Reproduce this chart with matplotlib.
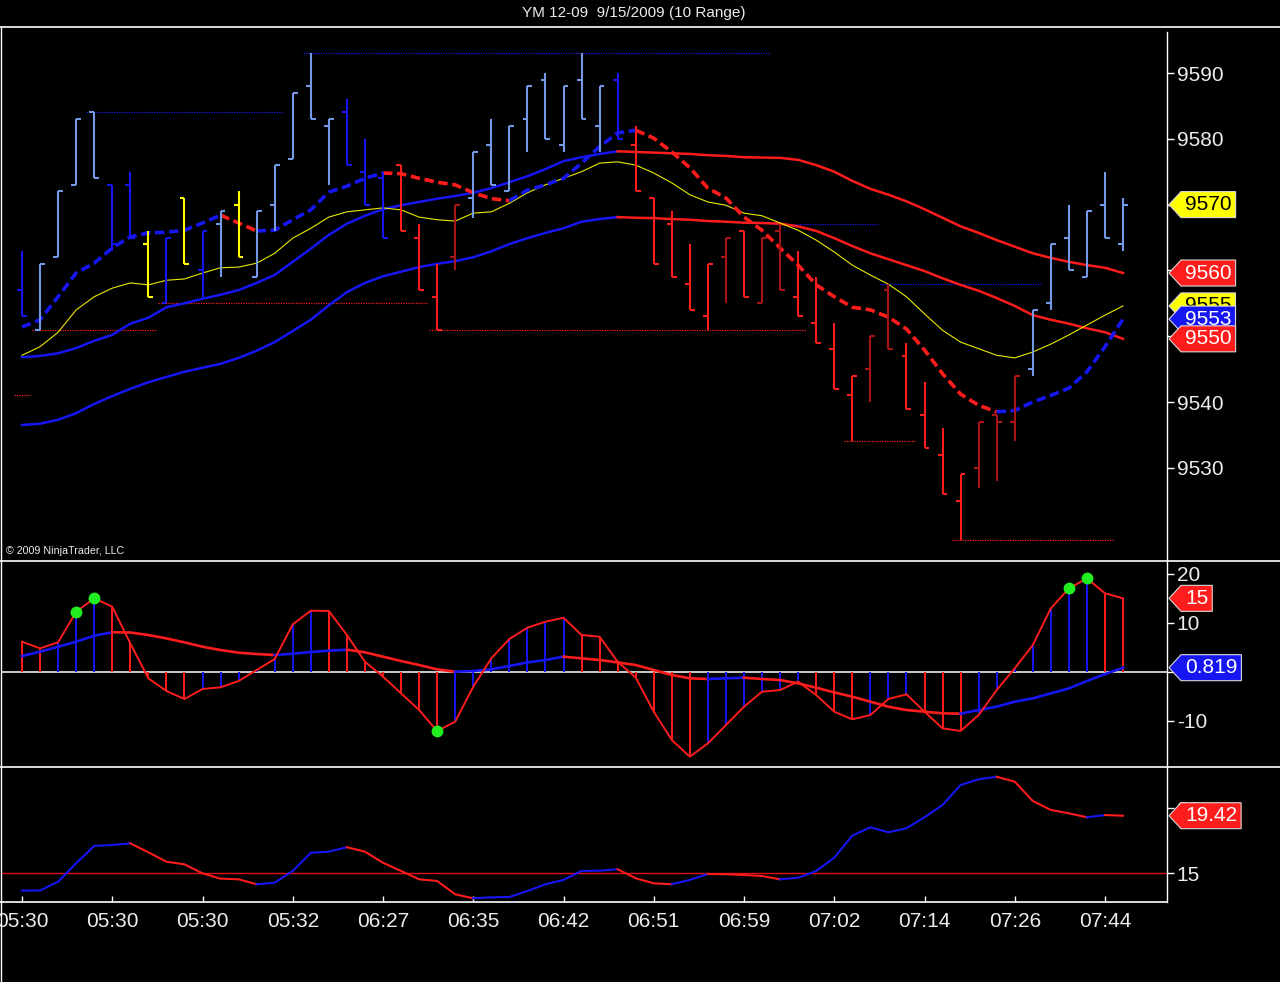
# YM 12-09 range chart, NinjaTrader style: price bars, oscillator, trend strength
import numpy as np
import matplotlib.pyplot as plt
from matplotlib.lines import Line2D
from matplotlib.patches import Polygon

plt.rcParams['font.family'] = ['Liberation Sans', 'DejaVu Sans']
plt.rcParams['axes.unicode_minus'] = False

# Data
# ------------------------------------------------------------------------------
title = "YM 12-09  9/15/2009 (10 Range)"
copyright_text = "\u00a9 2009 NinjaTrader, LLC"
time_labels = ["05:30", "05:30", "05:30", "05:32", "06:27", "06:35", "06:42",
               "06:51", "06:59", "07:02", "07:14", "07:26", "07:44"]

highs = [9563, 9561, 9572, 9583, 9584, 9573, 9575, 9566, 9565, 9571,
         9566, 9569, 9572, 9569, 9576, 9587, 9593, 9583, 9586, 9580,
         9575, 9576, 9567, 9561, 9570, 9578, 9583, 9582, 9588, 9590,
         9588, 9593, 9588, 9590, 9582, 9571, 9569, 9564, 9561, 9565,
         9566, 9565, 9567, 9563, 9559, 9552, 9544, 9550, 9558, 9549,
         9543, 9536, 9529, 9537, 9538, 9544, 9554, 9564, 9570, 9569,
         9575, 9571]
lows = [9553, 9551, 9562, 9573, 9574, 9563, 9565, 9556, 9555, 9561,
        9556, 9559, 9562, 9559, 9566, 9577, 9583, 9573, 9576, 9570,
        9565, 9566, 9557, 9551, 9560, 9568, 9573, 9572, 9578, 9580,
        9578, 9583, 9578, 9580, 9572, 9561, 9559, 9554, 9551, 9555,
        9556, 9555, 9557, 9553, 9549, 9542, 9534, 9540, 9548, 9539,
        9533, 9526, 9519, 9527, 9528, 9534, 9544, 9554, 9560, 9559,
        9565, 9563]
opens = [9557, 9551, 9562, 9573, 9584, 9573, 9573, 9564, 9555, 9571,
         9560, 9567, 9570, 9559, 9570, 9577, 9588, 9582, 9584, 9575,
         9574, 9576, 9565, 9556, 9562, 9571, 9579, 9572, 9583, 9589,
         9579, 9589, 9582, 9589, 9579, 9571, 9567, 9558, 9553, 9562,
         9566, 9555, 9566, 9556, 9552, 9548, 9541, 9545, 9557, 9547,
         9538, 9532, 9525, 9530, 9538, 9537, 9545, 9555, 9565, 9559,
         9570, 9564]
closes = [9553, 9561, 9572, 9583, 9574, 9564, 9565, 9556, 9565, 9561,
          9566, 9569, 9562, 9569, 9576, 9587, 9583, 9583, 9576, 9570,
          9565, 9566, 9557, 9551, 9570, 9578, 9573, 9582, 9588, 9580,
          9588, 9583, 9588, 9580, 9572, 9561, 9559, 9554, 9561, 9565,
          9556, 9565, 9557, 9553, 9549, 9542, 9544, 9550, 9548, 9539,
          9533, 9526, 9529, 9537, 9537, 9544, 9554, 9564, 9560, 9569,
          9565, 9570]
# L light blue, D blue, Y yellow, R red, S dark red
bar_codes = "DLLLLDDYDYDLYLLLLLDDDRRRS" + "LLLLLLLL" + "D" + "RRRRR" + "S" + "R" \
            + "SS" + "RRRR" + "SS" + "RRRR" + "SSS" + "LLLLLL"

ma_fast = [9546.8, 9547.0, 9547.4, 9548.2, 9549.3, 9550.2, 9551.9, 9552.8, 9554.4, 9555.0,
           9555.7, 9556.3, 9557.0, 9558.1, 9559.3, 9561.3, 9563.3, 9565.4, 9567.1, 9568.3,
           9569.3, 9569.9, 9570.4, 9570.9, 9571.3, 9571.8, 9572.5, 9573.4, 9574.3, 9575.4,
           9576.6, 9577.2, 9577.7, 9578.1, 9578.0, 9577.9, 9577.8, 9577.7, 9577.5, 9577.4,
           9577.2, 9577.15, 9577.1, 9576.8, 9576.0, 9575.0, 9573.6, 9572.4, 9571.5, 9570.5,
           9569.3, 9568.0, 9566.7, 9565.7, 9564.6, 9563.6, 9562.6, 9561.9, 9561.3, 9560.8,
           9560.4, 9559.6]
ma_slow = [9536.5, 9536.7, 9537.3, 9538.3, 9539.7, 9540.9, 9542.0, 9543.0, 9543.8, 9544.6,
           9545.2, 9545.8, 9546.7, 9547.8, 9549.1, 9550.8, 9552.5, 9554.7, 9556.7, 9558.1,
           9559.1, 9559.8, 9560.5, 9561.0, 9561.4, 9562.0, 9562.9, 9564.0, 9564.9, 9565.7,
           9566.4, 9567.4, 9567.8, 9568.1, 9568.0, 9567.95, 9567.8, 9567.7, 9567.5, 9567.4,
           9567.25, 9567.2, 9567.1, 9566.7, 9566.0, 9564.9, 9563.7, 9562.6, 9561.7, 9560.8,
           9559.9, 9558.8, 9557.8, 9556.9, 9555.8, 9554.6, 9553.2, 9552.5, 9551.9, 9551.2,
           9550.6, 9549.6]
ma_yellow = [9547.1, 9548.4, 9550.6, 9554.0, 9556.0, 9557.3, 9558.1, 9557.8, 9558.5, 9558.7,
             9559.6, 9560.4, 9560.5, 9561.1, 9562.6, 9564.9, 9566.4, 9568.1, 9568.9, 9569.2,
             9569.5, 9569.2, 9568.1, 9567.7, 9567.5, 9568.7, 9568.9, 9570.2, 9571.8, 9573.0,
             9574.0, 9575.0, 9576.3, 9576.5, 9576.0, 9574.8, 9573.3, 9571.5, 9570.4, 9569.9,
             9568.7, 9568.3, 9567.2, 9566.1, 9564.6, 9562.8, 9560.8, 9559.3, 9557.9, 9556.0,
             9553.4, 9550.9, 9549.1, 9548.1, 9547.1, 9546.7, 9547.6, 9548.8, 9550.2, 9551.7,
             9553.2, 9554.6]
trend_line = [9551.4, 9552.5, 9556.0, 9559.6, 9561.1, 9563.4, 9565.1, 9565.7, 9565.8, 9566.1,
              9567.2, 9568.4, 9567.2, 9566.0, 9566.1, 9567.7, 9569.2, 9571.9, 9572.8, 9574.0,
              9574.8, 9574.7, 9574.0, 9573.4, 9573.0, 9571.8, 9570.9, 9570.6, 9572.2, 9573.0,
              9574.0, 9576.3, 9578.8, 9580.9, 9581.3, 9580.1, 9578.0, 9575.6, 9572.5, 9571.0,
              9568.1, 9566.1, 9563.4, 9560.8, 9557.8, 9556.0, 9554.4, 9554.0, 9552.9, 9551.1,
              9547.9, 9544.3, 9541.2, 9539.5, 9538.5, 9538.7, 9540.0, 9541.0, 9542.1, 9544.6,
              9548.4, 9552.6]

swing_levels = [9541, 9551, 9555, 9551, 9584, 9593, 9567, 9534, 9558, 9519]
swing_first = [0, 1, 8, 23, 4, 16, 42, 46, 48, 52]
swing_last = [0, 7, 22, 43, 14, 41, 47, 49, 56, 60]
swing_is_high = [False, False, False, False, True, True, True, False, True, False]

price_ticks = [9530, 9540, 9550, 9560, 9570, 9580, 9590]
price_tick_labels = ["9530", "9540", "", "", "", "9580", "9590"]  # others sit under flags

macd = [6.12, 4.76, 6.0, 12.24, 14.97, 13.27, 5.79, -1.36, -3.94, -5.57,
        -3.53, -3.19, -1.9, 0.34, 2.59, 9.67, 12.45, 12.39, 7.49, 2.04,
        -1.02, -4.41, -7.82, -12.1, -10.2, -3.06, 2.73, 6.67, 8.98, 10.2,
        11.02, 7.49, 7.14, 2.04, -1.2, -8.16, -13.94, -17.35, -14.63, -10.88,
        -7.14, -4.08, -3.74, -2.04, -4.76, -8.16, -9.72, -8.84, -5.57, -4.62,
        -8.16, -11.56, -12.1, -8.84, -3.74, 0.69, 5.45, 12.93, 17.0, 19.05,
        16.0, 14.97]
signal = [3.2, 4.08, 5.1, 6.12, 7.35, 8.05, 8.0, 7.48, 6.8, 5.99,
          5.1, 4.42, 3.88, 3.61, 3.4, 3.67, 4.01, 4.29, 4.49, 3.95,
          3.07, 2.18, 1.36, 0.48, 0.0, 0.14, 0.48, 1.16, 1.9, 2.38,
          3.07, 2.72, 2.38, 1.9, 1.36, 0.35, -0.67, -1.35, -1.49, -1.35,
          -1.22, -1.49, -1.7, -2.38, -3.27, -4.22, -5.1, -6.12, -7.14, -7.82,
          -8.16, -8.5, -8.57, -7.82, -7.14, -6.12, -5.44, -4.42, -3.4, -1.9,
          -0.5, 0.819]
dot_bars = [3, 4, 23, 58, 59]
osc_ticks = [-10, 0, 10, 20]
osc_tick_labels = ["-10", "", "10", "20"]

strength = [13.67, 13.68, 14.36, 15.77, 17.1, 17.17, 17.3, 16.61, 15.89, 15.69,
            15.0, 14.59, 14.54, 14.16, 14.28, 15.18, 16.58, 16.66, 17.0, 16.66,
            15.81, 15.18, 14.54, 14.41, 13.39, 13.08, 13.16, 13.18, 13.64, 14.16,
            14.49, 15.18, 15.2, 15.31, 14.62, 14.23, 14.16, 14.49, 14.95, 14.93,
            14.87, 14.79, 14.54, 14.66, 15.18, 16.2, 17.89, 18.53, 18.15, 18.45,
            19.3, 20.24, 21.78, 22.21, 22.41, 22.03, 20.55, 19.86, 19.6, 19.3,
            19.47, 19.42]
# colour of the segment ending at each bar: b blue, r red
strength_codes = "b" + "bbbbbb" + "rrrrrrr" + "bbbbb" + "rrrrrrr" + "bbbbbbbb" + "rrr" \
                 + "bb" + "rrrr" + "bbbbbbbbbbbb" + "rrrrr" + "b" + "r"
strength_level = 15

# Style
# ------------------------------------------------------------------------------
W, H = 1280, 982
BG = "black"
INK = "#ececec"
LIGHT_BLUE = "#7399e6"
BLUE = "#1616f2"
RED = "#ff1c1c"
DARK_RED = "#a81414"
YELLOW = "#ffff00"
GREEN = "#20ee20"
bar_palette = {"L": LIGHT_BLUE, "D": BLUE, "Y": YELLOW, "R": RED, "S": DARK_RED}
STEP = 18.05  # pixels per bar

fig = plt.figure(figsize=(W / 100, H / 100), dpi=100, facecolor=BG)


def add_panel(top, bottom):
    ax = fig.add_axes([2 / W, 1 - bottom / H, 1165 / W, (bottom - top) / H])
    ax.set_facecolor(BG)
    for s in ax.spines.values():
        s.set_visible(False)
    x0 = -20 / STEP
    ax.set_xlim(x0, x0 + 1165 / STEP)
    ax.yaxis.tick_right()
    ax.tick_params(axis="y", colors="white", labelcolor=INK, length=5, width=1,
                   pad=2, labelsize=15)
    ax.tick_params(axis="x", bottom=False, labelbottom=False)
    return ax


def runs(x, y, codes, ax, colors, **kw):
    # draw consecutive segments of the same colour as one line
    start = 1
    for k in range(2, len(y) + 1):
        if k == len(y) or codes[k] != codes[start]:
            ax.plot(x[start - 1:k], y[start - 1:k], color=colors[codes[start]], **kw)
            start = k


def slope_codes(y):
    d = np.diff(y)
    return ["r"] + ["b" if v > 0 else "r" for v in d]


fig_inv = fig.transFigure.inverted()
renderer = fig.canvas.get_renderer()


def flag(ax, value, label, face, ink, z):
    yd = ax.transData.transform((0, value))[1]
    tip = 1169
    t = fig.text(*fig_inv.transform((tip + 16, yd)), label, fontsize=15, color=ink,
                 ha="left", va="center", zorder=z + 1)
    x1 = t.get_window_extent(renderer).x1 + 4
    pts = [(tip, yd), (tip + 12, yd + 13), (x1, yd + 13), (x1, yd - 13), (tip + 12, yd - 13)]
    fig.add_artist(Polygon(fig_inv.transform(pts), closed=True, transform=fig.transFigure,
                           facecolor=face, edgecolor="#d8d8d8", lw=0.8, zorder=z))


bars = np.arange(len(closes))
rb = {"b": BLUE, "r": RED}

# Price panel
# ------------------------------------------------------------------------------
ax1 = add_panel(27, 561)
ax1.set_ylim(9590 - 488 / 6.58, 9590 + 46 / 6.58)
ax1.set_yticks(price_ticks)
ax1.set_yticklabels(price_tick_labels)

runs(bars, np.array(ma_slow), slope_codes(ma_slow), ax1, rb, lw=1.8, zorder=2)
runs(bars, np.array(ma_fast), slope_codes(ma_fast), ax1, rb, lw=1.8, zorder=2)
ax1.plot(bars, ma_yellow, color="#e8e800", lw=0.8, zorder=2)
runs(bars, np.array(trend_line), slope_codes(trend_line), ax1, rb, lw=2.6,
     dashes=(2.6, 1.3), zorder=2.5)

for lvl, a, b, hi in zip(swing_levels, swing_first, swing_last, swing_is_high):
    ax1.hlines(lvl, a - 0.45, b + 0.45, colors=BLUE if hi else RED, lw=0.9,
               linestyles=(0, (1, 1)), zorder=1)

cols = [bar_palette[c] for c in bar_codes]
ax1.vlines(bars, lows, highs, colors=cols, lw=1.5, zorder=3)
ax1.hlines(opens, bars - 0.27, bars, colors=cols, lw=1.5, zorder=3)
ax1.hlines(closes, bars, bars + 0.27, colors=cols, lw=1.5, zorder=3)

# Oscillator panel
# ------------------------------------------------------------------------------
ax2 = add_panel(561, 767)
ax2.set_ylim(-(767 - 671.7) / 4.9, (671.7 - 561) / 4.9)
ax2.set_yticks(osc_ticks)
ax2.set_yticklabels(osc_tick_labels)
ax2.axhline(0, color="white", lw=1.1, zorder=1)
hist_cols = [rb[c] for c in slope_codes(macd)]
ax2.vlines(bars, 0, macd, colors=hist_cols, lw=1.4, zorder=2)
runs(bars, np.array(signal), ["b"] + slope_codes(signal)[1:], ax2, rb, lw=1.9, zorder=3)
ax2.plot(bars, macd, color=RED, lw=1.4, zorder=3)
ax2.plot(dot_bars, [macd[i] for i in dot_bars], "o", color=GREEN, ms=7.5, mec=GREEN, zorder=4)

# Trend strength panel
# ------------------------------------------------------------------------------
ax3 = add_panel(767, 902)
ax3.set_ylim(15 - (902 - 873.3) / 13.03, 15 + (873.3 - 767) / 13.03)
ax3.set_yticks([15, 20])
ax3.axhline(strength_level, color="#e01010", lw=1.0, zorder=1)
runs(bars, np.array(strength), strength_codes, ax3, rb, lw=1.5, zorder=2)
ax3.set_xticks(range(0, 61, 5))
ax3.set_xticklabels(time_labels)
ax3.tick_params(axis="x", bottom=True, labelbottom=True, direction="in", length=4,
                width=1, colors="white", labelcolor=INK, labelsize=15, pad=7)

# Frame lines, title, flags
# ------------------------------------------------------------------------------
def fig_line(x0, y0, x1, y1, lw=1.2):
    fig.add_artist(Line2D([x0 / W, x1 / W], [1 - y0 / H, 1 - y1 / H],
                          transform=fig.transFigure, color="white", lw=lw, zorder=1))


fig_line(0, 27, W, 27)
fig_line(0, 561, W, 561)
fig_line(0, 767, W, 767)
fig_line(0, 902, 1167, 902)
fig_line(1167, 32, 1167, 902, lw=1.0)
fig_line(1, 27, 1, H, lw=1.0)

fig.text(634 / W, 1 - 13 / H, title, ha="center", va="center", fontsize=11, color=INK)
fig.text(6 / W, 1 - 551 / H, copyright_text, ha="left", va="center", fontsize=7.7, color=INK)

flag(ax1, closes[-1], f"{closes[-1]:.0f}", YELLOW, "black", 10)
flag(ax1, ma_fast[-1], f"{ma_fast[-1]:.0f}", RED, "white", 12)
flag(ax1, ma_yellow[-1], f"{ma_yellow[-1]:.0f}", YELLOW, "black", 14)
flag(ax1, trend_line[-1], f"{trend_line[-1]:.0f}", BLUE, "white", 16)
flag(ax1, ma_slow[-1], f"{ma_slow[-1]:.0f}", RED, "white", 18)
flag(ax2, macd[-1], f"{macd[-1]:.0f}", RED, "white", 10)
flag(ax2, signal[-1], f"{signal[-1]:.3f}", BLUE, "white", 12)
flag(ax3, strength[-1], f"{strength[-1]:.2f}", RED, "white", 10)

fig.savefig("out.png", dpi=100, facecolor=BG)
